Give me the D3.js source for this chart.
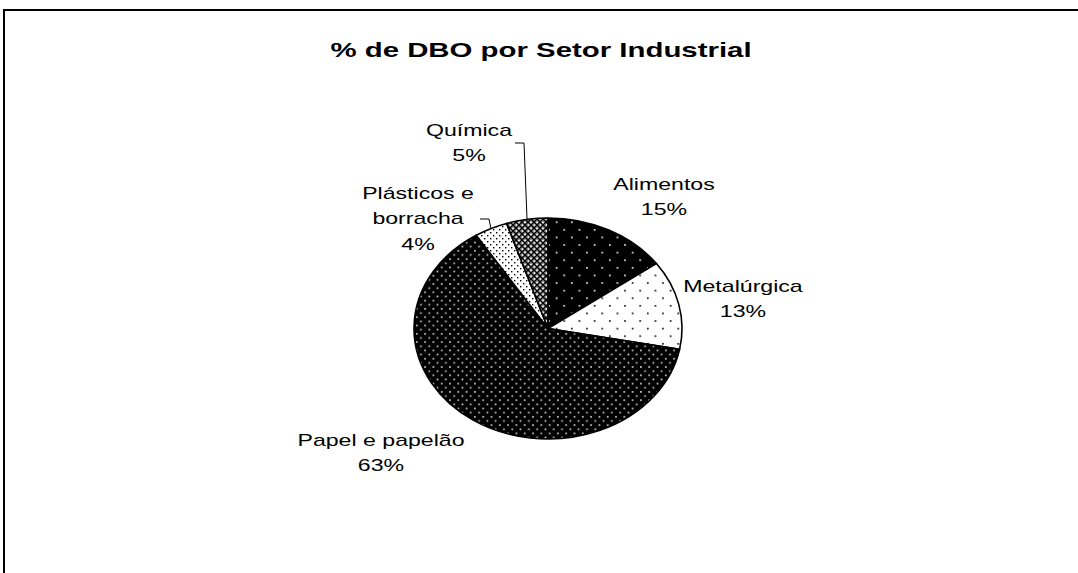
<!DOCTYPE html>
<html>
<head>
<meta charset="utf-8">
<script src="https://cdn.jsdelivr.net/npm/d3@7"></script>
<style>
  html, body { margin: 0; padding: 0; background: #fff; }
  svg { display: block; }
  text { font-family: "Liberation Sans", Arial, sans-serif; fill: #000; }
</style>
</head>
<body>
<svg id="chart" width="1078" height="573"></svg>
<script>
// Share of BOD load (DBO) by industrial sector, in percent
const sectors = ["Alimentos", "Metalúrgica", "Papel e papelão", "Plásticos e borracha", "Química"];
const shares = [15, 13, 63, 4, 5];
const labelLines = [["Alimentos"], ["Metalúrgica"], ["Papel e papelão"], ["Plásticos e", "borracha"], ["Química"]];
const patternIds = ["pAlimentos", "pMetal", "pPapel", "pPlastico", "pQuimica"];

const svg = d3.select("#chart");
const W = 1078, H = 573;

// frame
svg.append("rect").attr("x", 4).attr("y", 10).attr("width", W + 10).attr("height", H + 10)
  .attr("fill", "#fff").attr("stroke", "#000").attr("stroke-width", 2);

// fill patterns
const defs = svg.append("defs");
function pattern(id, size, bg, dots, dotColor, r) {
  const p = defs.append("pattern").attr("id", id).attr("patternUnits", "userSpaceOnUse")
    .attr("width", size).attr("height", size);
  p.append("rect").attr("width", size).attr("height", size).attr("fill", bg);
  dots.forEach(d => p.append("rect").attr("x", d[0]).attr("y", d[1])
    .attr("width", r).attr("height", r).attr("fill", dotColor));
  return p;
}
pattern("pAlimentos", 15.2, "#000", [[1, 1], [8.6, 8.6]], "#fff", 1.6);
pattern("pMetal", 15.2, "#fff", [[1, 1], [8.6, 8.6]], "#000", 1.6);
pattern("pPapel", 8.3, "#000", [[1, 1], [5.15, 5.15]], "#ddd", 1.6);
pattern("pPlastico", 6, "#fff", [[1, 1], [4, 4]], "#000", 1.4);
(function () {
  const p = defs.append("pattern").attr("id", "pQuimica").attr("patternUnits", "userSpaceOnUse")
    .attr("width", 6).attr("height", 6);
  p.append("rect").attr("width", 6).attr("height", 6).attr("fill", "#9a9a9a");
  p.append("path").attr("d", "M0,0L6,6M6,0L0,6").attr("stroke", "#000").attr("stroke-width", 1.3);
  p.append("rect").attr("x", 2.2).attr("y", 0).attr("width", 1.6).attr("height", 1.2).attr("fill", "#fff");
  p.append("rect").attr("x", 0).attr("y", 2.4).attr("width", 1.2).attr("height", 1.4).attr("fill", "#fff");
})();

// elliptical pie geometry
const cx = 548, cy = 328.5, rx = 134, ry = 110.5;
const pie = d3.pie().sort(null).value(d => d)(shares);
const pt = a => [cx + rx * Math.sin(a), cy - ry * Math.cos(a)];

function slicePath(s) {
  const a0 = pt(s.startAngle), a1 = pt(s.endAngle);
  const large = (s.endAngle - s.startAngle) > Math.PI ? 1 : 0;
  return `M${cx},${cy}L${a0[0]},${a0[1]}A${rx},${ry} 0 ${large} 1 ${a1[0]},${a1[1]}Z`;
}

svg.append("g").selectAll("path").data(pie).join("path")
  .attr("d", slicePath)
  .attr("fill", (d, i) => `url(#${patternIds[i]})`)
  .attr("stroke", "#000").attr("stroke-width", 1.6).attr("stroke-linejoin", "round");

// title
svg.append("text").attr("transform", "translate(541,57) scale(1.4,1)")
  .attr("text-anchor", "middle").attr("font-weight", "bold").attr("font-size", 21)
  .text("% de DBO por Setor Industrial");

// category labels with percentages
const labelPos = [[664, 190], [743, 292], [381, 446], [418, 199], [469, 136]];
const lineH = 25.5;
labelLines.forEach((lines, i) => {
  const t = svg.append("text")
    .attr("transform", `translate(${labelPos[i][0]},${labelPos[i][1]}) scale(1.36,1)`)
    .attr("text-anchor", "middle").attr("font-size", 17);
  lines.concat([shares[i] + "%"]).forEach((s, k) => {
    t.append("tspan").attr("x", 0).attr("y", k * lineH).text(s);
  });
});

// leader lines for the two small slices
const leaders = [
  { i: 3, from: [480, 219], knee: [489, 219] },
  { i: 4, from: [515, 143], knee: [524, 143] }
];
leaders.forEach(l => {
  const s = pie[l.i];
  const end = pt((s.startAngle + s.endAngle) / 2);
  svg.append("path")
    .attr("d", `M${l.from[0]},${l.from[1]}L${l.knee[0]},${l.knee[1]}L${end[0]},${end[1]}`)
    .attr("fill", "none").attr("stroke", "#000").attr("stroke-width", 1);
});
</script>
</body>
</html>
